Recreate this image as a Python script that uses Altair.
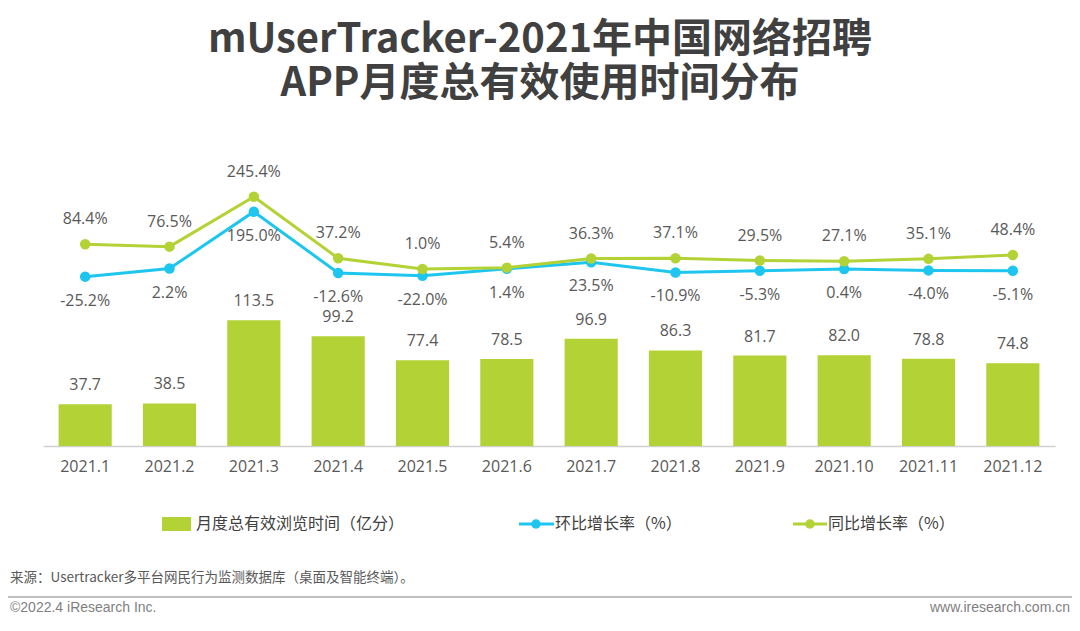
import altair as alt
import pandas as pd

months = ["2021.1", "2021.2", "2021.3", "2021.4", "2021.5", "2021.6",
          "2021.7", "2021.8", "2021.9", "2021.10", "2021.11", "2021.12"]
time_values = [37.7, 38.5, 113.5, 99.2, 77.4, 78.5, 96.9, 86.3, 81.7, 82.0, 78.8, 74.8]
mom_values = [-25.2, 2.2, 195.0, -12.6, -22.0, 1.4, 23.5, -10.9, -5.3, 0.4, -4.0, -5.1]
yoy_values = [84.4, 76.5, 245.4, 37.2, 1.0, 5.4, 36.3, 37.1, 29.5, 27.1, 35.1, 48.4]

title_lines = ["mUserTracker-2021年中国网络招聘", "APP月度总有效使用时间分布"]
legend_labels = ["月度总有效浏览时间（亿分）", "环比增长率（%）", "同比增长率（%）"]
source_text = "来源：Usertracker多平台网民行为监测数据库（桌面及智能终端）。"
footer_left = "©2022.4 iResearch Inc."
footer_right = "www.iresearch.com.cn"

GREEN = "#B3D235"
BLUE = "#1EC6EF"
TEXT = "#595959"
FONT = "Noto Sans CJK SC"
LFONT = "Open Sans, Noto Sans CJK SC"

df = pd.DataFrame({
    "month": months, "time": time_values, "mom": mom_values, "yoy": yoy_values,
    "mom_lbl": [f"{v:.1f}%" for v in mom_values],
    "yoy_lbl": [f"{v:.1f}%" for v in yoy_values],
})
base = alt.Chart(df)

x = alt.X("month:O", sort=months, title=None,
          scale=alt.Scale(paddingInner=0.37, paddingOuter=0.185),
          axis=alt.Axis(labelAngle=0, ticks=False, labelFont=LFONT, labelFontSize=16,
                        labelColor=TEXT, labelPadding=12, domainColor="#d0d0d0", domainWidth=1.5))
xs = alt.X("month:O", sort=months)

ybar = alt.Y("time:Q", scale=alt.Scale(domain=[0, 267.4]), axis=None)
bars = base.mark_bar(color=GREEN).encode(x=x, y=ybar)
bar_labels = base.mark_text(font=LFONT, fontSize=16, color=TEXT, baseline="middle", dy=-19).encode(
    x=xs, y=ybar, text=alt.Text("time:Q", format=".1f"))

line_scale = alt.Scale(domain=[-599, 404])
yoy_y = alt.Y("yoy:Q", scale=line_scale, axis=None)
mom_y = alt.Y("mom:Q", scale=line_scale, axis=None)
yoy_line = base.mark_line(color=GREEN, strokeWidth=3,
                          point=alt.OverlayMarkDef(filled=True, color=GREEN, size=110, opacity=1)).encode(
    x=xs, y=yoy_y)
mom_line = base.mark_line(color=BLUE, strokeWidth=3,
                          point=alt.OverlayMarkDef(filled=True, color=BLUE, size=110, opacity=1)).encode(
    x=xs, y=mom_y)
yoy_labels = base.mark_text(font=LFONT, fontSize=16, color=TEXT, baseline="middle", dy=-25).encode(
    x=xs, y=yoy_y, text="yoy_lbl:N")
mom_labels = base.mark_text(font=LFONT, fontSize=16, color=TEXT, baseline="middle", dy=24).encode(
    x=xs, y=mom_y, text="mom_lbl:N")

one = alt.Data(values=[{"k": 1}])


def txt(s, xv, yv, size, color=TEXT, align="left", weight="normal", font=FONT):
    return alt.Chart(one).mark_text(font=font, fontSize=size, color=color, align=align,
                                    baseline="middle", fontWeight=weight).encode(
        x=alt.value(xv), y=alt.value(yv), text=alt.value(s))


title1 = txt(title_lines[0], 497, -110, 40, "#404040", "center", "bold")
title2 = txt(title_lines[1], 497, -66, 40, "#404040", "center", "bold")

leg_rect = alt.Chart(one).mark_rect(color=GREEN).encode(
    x=alt.value(119), x2=alt.value(148), y=alt.value(367), y2=alt.value(381))
leg_t1 = txt(legend_labels[0], 153, 374, 16, "#404040")
leg_blue_line = alt.Chart(one).mark_rule(color=BLUE, strokeWidth=3).encode(
    x=alt.value(476), x2=alt.value(511), y=alt.value(374))
leg_blue_pt = alt.Chart(one).mark_point(filled=True, color=BLUE, size=90, opacity=1).encode(
    x=alt.value(493), y=alt.value(374))
leg_t2 = txt(legend_labels[1], 512, 374, 16, "#404040")
leg_green_line = alt.Chart(one).mark_rule(color=GREEN, strokeWidth=3).encode(
    x=alt.value(750), x2=alt.value(784), y=alt.value(374))
leg_green_pt = alt.Chart(one).mark_point(filled=True, color=GREEN, size=90, opacity=1).encode(
    x=alt.value(767), y=alt.value(374))
leg_t3 = txt(legend_labels[2], 785, 374, 16, "#404040")

src = txt(source_text, -33, 428, 13.5)
sep = alt.Chart(one).mark_rule(color="#bfbfbf", strokeWidth=2).encode(
    x=alt.value(-35), x2=alt.value(1029), y=alt.value(447))
foot_l = txt(footer_left, -33, 458, 14, "#7f7f7f", font="Liberation Sans Narrow, Liberation Sans")
foot_r = txt(footer_right, 1027, 458, 14, "#7f7f7f", align="right",
             font="Liberation Sans Narrow, Liberation Sans")

chart = alt.layer(
    bars, bar_labels, mom_line, yoy_line, yoy_labels, mom_labels,
    title1, title2, leg_rect, leg_t1, leg_blue_line, leg_blue_pt, leg_t2,
    leg_green_line, leg_green_pt, leg_t3, src, sep, foot_l, foot_r
).resolve_scale(y="independent").properties(
    width=1012, height=296,
    background="white",
    autosize=alt.AutoSizeParams(type="none"),
    padding={"left": 35, "top": 142, "right": 17, "bottom": 170},
).configure_view(strokeWidth=0)

chart.save("out.html", embed_options={"renderer": "svg", "actions": False})
